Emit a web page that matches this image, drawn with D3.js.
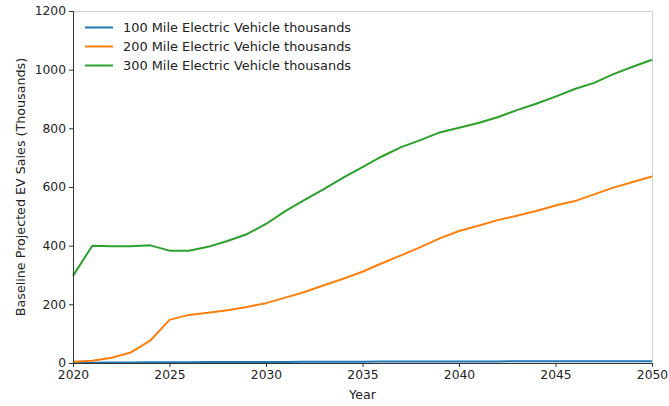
<!DOCTYPE html>
<html><head><meta charset="utf-8">
<script src="https://cdn.jsdelivr.net/npm/d3@7"></script>
<style>body{margin:0;background:#fff}svg{display:block;font-family:"DejaVu Sans",sans-serif}</style>
</head><body><svg id="c" width="669" height="406"></svg>
<script>
const years = d3.range(2020, 2051);
const seriesNames = ["100 Mile Electric Vehicle thousands","200 Mile Electric Vehicle thousands","300 Mile Electric Vehicle thousands"];
const colors = ["#1f77b4","#ff7f0e","#2ca02c"];
const mile100 = [0.5,1,1.5,2,2.3,2.5,2.8,3,3.2,3.4,3.6,3.8,4,4.2,4.4,4.6,4.8,5,5.1,5.2,5.3,5.4,5.5,5.6,5.7,5.8,5.9,6,6.1,6.2,6.3];
const mile200 = [4,8,18,36,76,147,164,171,180,191,204,223,242,265,287,311,340,367,395,425,450,468,487,502,518,537,552,575,598,617,636];
const mile300 = [297,400,398,398,401,383,383,396,416,439,474,518,556,593,632,668,704,736,760,786,802,818,838,862,884,908,934,955,985,1010,1034];
const yTicks = [0,200,400,600,800,1000,1200];
const xTicks = [2020,2025,2030,2035,2040,2045,2050];
const data = [mile100, mile200, mile300];

const svg = d3.select("#c");
const L=73, R=652, T=11, B=363;
const x = d3.scaleLinear().domain([2020,2050]).range([L,R]);
const y = d3.scaleLinear().domain([0,1200]).range([B,T]);

svg.append("line").attr("x1",L).attr("x2",R).attr("y1",T+0.5).attr("y2",T+0.5).attr("stroke","#d0d0d0");
svg.append("line").attr("x1",R+0.5).attr("x2",R+0.5).attr("y1",T).attr("y2",B).attr("stroke","#d0d0d0");

const line = d3.line().x((d,i)=>x(years[i])).y(d=>y(d));
data.forEach((s,k)=>{
  svg.append("path").datum(s).attr("d",line).attr("fill","none").attr("stroke",colors[k]).attr("stroke-width",2).attr("stroke-linejoin","round");
});

const xa = svg.append("g").attr("transform",`translate(0,${B})`).call(d3.axisBottom(x).tickValues(xTicks).tickFormat(d3.format("d")).tickSize(4).tickPadding(3));
const ya = svg.append("g").attr("transform",`translate(${L},0)`).call(d3.axisLeft(y).tickValues(yTicks).tickFormat(d3.format("d")).tickSize(4).tickPadding(3));
[xa,ya].forEach(a=>{
  a.selectAll("text").attr("font-size",12.3).attr("fill","#222").attr("font-family","DejaVu Sans");
  a.selectAll("line").attr("stroke","#333");
  a.select(".domain").attr("stroke","#333");
});

svg.append("text").attr("x",(L+R)/2).attr("y",399).attr("text-anchor","middle").attr("font-size",12.7).attr("fill","#222").text("Year");
svg.append("text").attr("transform",`translate(25,${(T+B)/2}) rotate(-90)`).attr("text-anchor","middle").attr("font-size",12.7).attr("fill","#222").text("Baseline Projected EV Sales (Thousands)");

const lg = svg.append("g");
seriesNames.forEach((n,k)=>{
  const yy = 27.5 + k*19;
  lg.append("line").attr("x1",85).attr("x2",113).attr("y1",yy).attr("y2",yy).attr("stroke",colors[k]).attr("stroke-width",2);
  lg.append("text").attr("x",123).attr("y",yy+4.5).attr("font-size",12.9).attr("fill","#222").text(n);
});
</script></body></html>
